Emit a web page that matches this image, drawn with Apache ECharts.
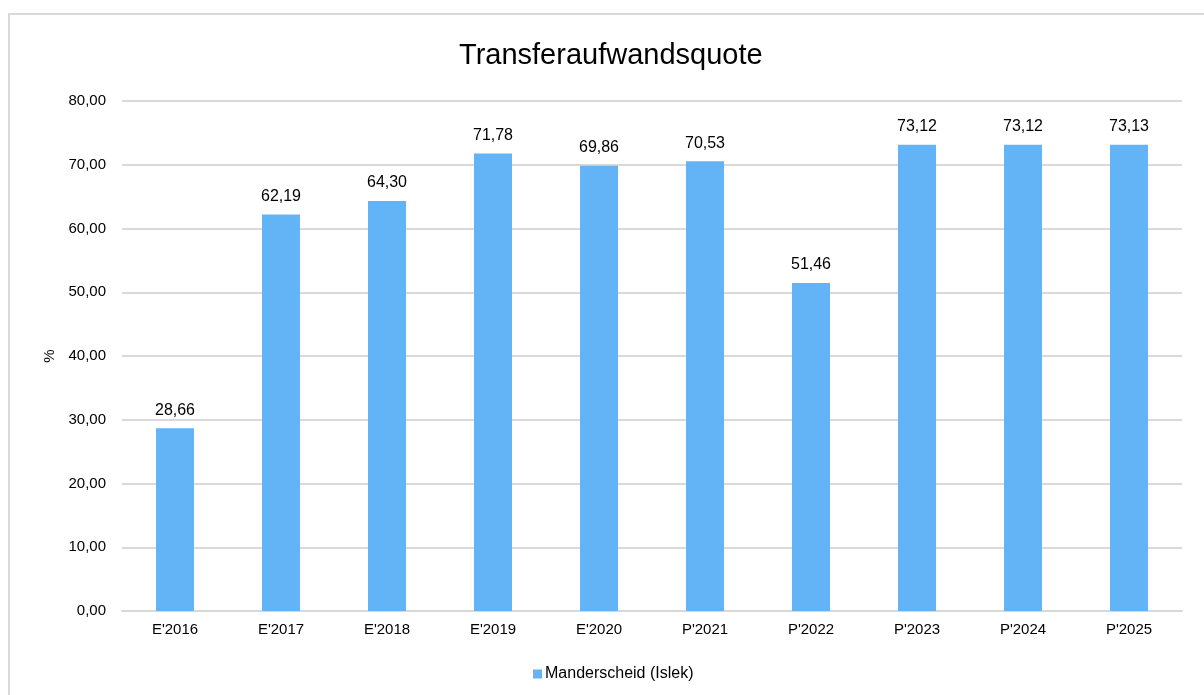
<!DOCTYPE html>
<html>
<head>
<meta charset="utf-8">
<script src="https://cdn.jsdelivr.net/npm/echarts@6/dist/echarts.min.js"></script>
<style>
    html, body { margin: 0; padding: 0; background: #fff; }
    #main { width: 1204px; height: 695px; }
</style>
</head>
<body>
<div id="main"></div>
<script>
const categories = ["E'2016", "E'2017", "E'2018", "E'2019", "E'2020", "P'2021", "P'2022", "P'2023", "P'2024", "P'2025"]
const quote = [28.66, 62.19, 64.30, 71.78, 69.86, 70.53, 51.46, 73.12, 73.12, 73.13]
const seriesName = 'Manderscheid (Islek)'

const fmt = v => v.toFixed(2).replace('.', ',')
const font = 'Arial, "Liberation Sans", sans-serif'

let myChart = echarts.init(document.getElementById('main'))

let option = {
    backgroundColor: '#fff',
    animation: false,
    graphic: [{
        type: 'rect',
        shape: {x: 9, y: 14, width: 1210, height: 700},
        style: {fill: 'none', stroke: '#d9d9d9', lineWidth: 2},
        silent: true
    }],
    title: {
        text: 'Transferaufwandsquote',
        left: 454,
        top: 36,
        textStyle: {color: '#000', fontSize: 29, fontWeight: 'normal', fontFamily: font}
    },
    legend: {
        bottom: 8,
        left: 528,
        itemWidth: 9,
        itemHeight: 9,
        itemGap: 10,
        icon: 'rect',
        textStyle: {color: '#000', fontSize: 16, fontFamily: font, padding: [0, 0, 0, -2]},
        data: [seriesName]
    },
    grid: {
        left: 122,
        right: 22,
        top: 101,
        bottom: 84,
        containLabel: false
    },
    xAxis: {
        type: 'category',
        data: categories,
        axisLine: {lineStyle: {color: '#d9d9d9', width: 2}},
        axisTick: {show: false},
        axisLabel: {color: '#000', fontSize: 15, fontFamily: font, margin: 11}
    },
    yAxis: {
        type: 'value',
        min: 0,
        max: 80,
        interval: 10,
        name: '%',
        nameLocation: 'middle',
        nameGap: 58,
        nameRotate: 90,
        nameTextStyle: {color: '#000', fontSize: 15, fontFamily: font},
        axisLine: {show: false},
        axisTick: {show: false},
        splitLine: {lineStyle: {color: '#d9d9d9', width: 2}},
        axisLabel: {color: '#000', fontSize: 15, fontFamily: font, margin: 16, formatter: fmt}
    },
    series: [{
        name: seriesName,
        type: 'bar',
        data: quote,
        barWidth: 38,
        itemStyle: {color: '#63b4f6'},
        label: {
            show: true,
            position: 'top',
            distance: 10,
            color: '#000',
            fontSize: 16,
            fontFamily: font,
            formatter: p => fmt(p.value)
        }
    }]
}

myChart.setOption(option)
</script>
</body>
</html>
